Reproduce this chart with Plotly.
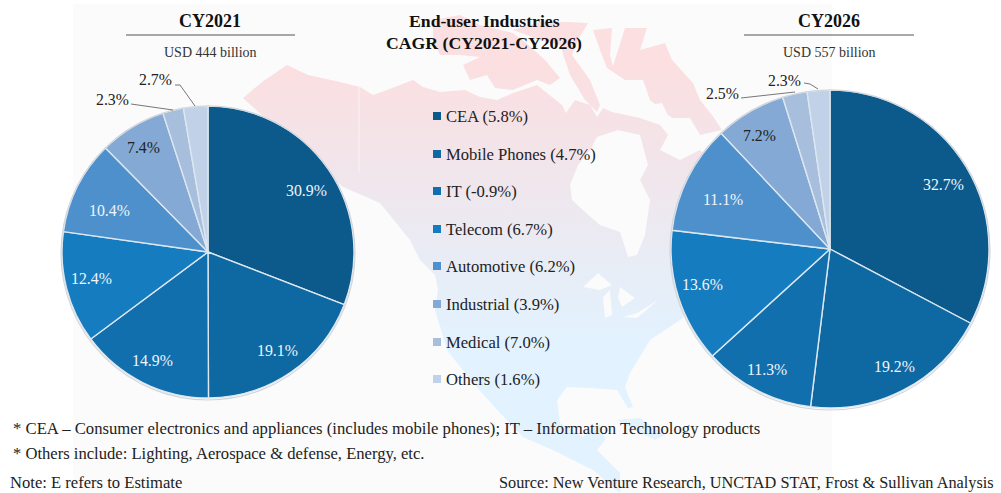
import plotly.graph_objects as go

# ---- data ----
segments = ["CEA", "Mobile Phones", "IT", "Telecom", "Automotive", "Industrial", "Medical", "Others"]
cagr = ["5.8", "4.7", "-0.9", "6.7", "6.2", "3.9", "7.0", "1.6"]
share_2021 = [30.9, 19.1, 14.9, 12.4, 10.4, 7.4, 2.3, 2.7]
share_2026 = [32.7, 19.2, 11.3, 13.6, 11.1, 7.2, 2.5, 2.3]
colors = ["#0C5A8C", "#0E68A1", "#116FAD", "#157CBF", "#4E90CB", "#84A9D4", "#A8BEDD", "#C0D1E8"]

W, H = 1001, 493
FONT = "Liberation Serif"
BG = "#FBFBFB"

# ---- layout positions (pixels) ----
pie1 = (208, 252, 146)
pie2 = (830, 249, 159)
label_xy_2021 = [(306, 190), (277, 350), (152, 360), (91, 278), (109, 210), (143, 147), (112, 99), (155, 79)]
label_xy_2026 = [(943, 184), (894, 366), (767, 369), (702, 284), (723, 199), (759, 135), (722, 93), (784, 80)]
legend_y = [116, 154, 191, 229, 266, 304, 342, 379]

# decorative map silhouette behind the chart
land = [
    [(243,98),(262,82),(287,65),(308,75),(340,82),(360,87),(373,95),(387,90),(413,80),(423,87),(440,92),(465,90),
     (480,97),(497,100),(513,93),(537,85),(552,97),(562,105),(566,113),(575,100),(590,105),(597,117),(603,108),
     (612,112),(640,118),(660,125),(668,135),(660,150),(680,160),(700,150),(725,175),(760,200),(730,280),(680,320),
     (650,340),(630,373),(625,387),(633,407),(628,408),(617,390),(590,388),(567,387),(557,400),(560,423),(583,437),
     (590,430),(600,425),(605,440),(597,450),(620,473),(620,493),(593,470),(553,450),(523,437),(500,413),(473,383),
     (447,350),(435,310),(438,290),(435,275),(420,260),(410,240),(380,203),(343,187),(300,150),(243,98)],
    [(593,30),(612,28),(610,55),(613,66),(625,28),(647,28),(640,50),(665,43),(672,60),(693,83),(700,100),(712,115),
     (722,130),(700,135),(690,118),(672,118),(650,100),(643,80),(625,80),(607,68),(600,50),(593,30)],
    [(513,30),(540,22),(567,22),(588,23),(578,40),(572,55),(590,80),(600,105),(597,112),(585,100),(570,75),(560,45),
     (540,40),(513,30)],
    [(433,20),(460,15),(480,25),(513,33),(525,42),(545,60),(560,78),(550,85),(537,80),(513,90),(495,88),(487,75),
     (470,80),(463,65),(480,57),(460,55),(440,55),(433,40),(433,20)],
    [(617,420),(640,418),(665,435),(655,440),(635,430),(617,420)],
]
water = [
    [(597,137),(618,130),(640,135),(648,165),(640,180),(650,200),(645,235),(637,255),(628,257),(620,232),(600,225),
     (585,212),(572,200),(570,185),(578,165),(590,150),(597,137)],
    [(583,287),(598,273),(612,285),(600,290),(583,287)],
    [(603,297),(610,290),(612,315),(605,318),(603,297)],
    [(620,287),(635,298),(622,307),(618,298),(620,287)],
    [(623,317),(637,313),(658,300),(650,307),(637,318),(623,317)],
    [(650,105),(662,103),(667,113),(660,123),(652,120),(650,105)],
]


def flatten(polys):
    xs, ys = [], []
    for p in polys:
        xs += [a for a, _ in p] + [None]
        ys += [b for _, b in p] + [None]
    return xs, ys


fig = go.Figure()
lx, ly = flatten(land)
fig.add_trace(go.Scatter(
    x=lx, y=ly, mode="none", fill="toself", hoverinfo="skip", showlegend=False,
    fillgradient=dict(type="vertical", start=70, stop=340,
                      colorscale=[[0, "#FBDFE1"], [0.4, "#F0E6EC"], [1, "#E2F2FE"]]),
))
wx, wy = flatten(water)
fig.add_trace(go.Scatter(x=wx, y=wy, mode="none", fill="toself", fillcolor=BG,
                         hoverinfo="skip", showlegend=False))


def domain(p):
    cx, cy, r = p
    return dict(x=[(cx - r) / W, (cx + r) / W], y=[1 - (cy + r) / H, 1 - (cy - r) / H])


for name, vals, p in (("CY2021", share_2021, pie1), ("CY2026", share_2026, pie2)):
    fig.add_trace(go.Pie(
        labels=segments, values=vals, name=name, sort=False, direction="clockwise", rotation=0,
        domain=domain(p), textinfo="none", showlegend=False,
        marker=dict(colors=colors, line=dict(color="#DCE7F0", width=1.4)),
    ))

shapes, ann = [], []


def text(x, y, s, size=16.6, color="#222222", anchor="center", bold=False):
    ann.append(dict(x=x, y=y, xref="x", yref="y", text=f"<b>{s}</b>" if bold else s, showarrow=False,
                    xanchor=anchor, yanchor="middle", font=dict(family=FONT, size=size, color=color)))


def line(pts, color="#555555", width=0.8):
    d = "M" + " L".join(f"{a},{b}" for a, b in pts)
    shapes.append(dict(type="path", path=d, xref="x", yref="y", layer="above",
                       line=dict(color=color, width=width)))


# backdrop panel and the soft rims of the pies
shapes.append(dict(type="rect", x0=73, x1=832, y0=4, y1=H, xref="x", yref="y", layer="below",
                   fillcolor=BG, line_width=0))
for cx, cy, r in (pie1, pie2):
    shapes.append(dict(type="circle", x0=cx - r - 1, x1=cx + r + 1, y0=cy - r, y1=cy + r + 2, xref="x", yref="y",
                       layer="above", fillcolor="rgba(0,0,0,0)", line=dict(color="#D2D6DA", width=1.2)))

line([(359, 87), (359, 172)], color="#FFFFFF", width=0.6)

# headers
text(210, 21, "CY2021", 18, "#111111", bold=True)
line([(126, 35), (295, 35)], "#555555", 1.2)
text(210, 52, "USD 444 billion", 14, "#333333")
text(829, 21, "CY2026", 18, "#111111", bold=True)
line([(744, 35), (914, 35)], "#555555", 1.2)
text(829, 52, "USD 557 billion", 14, "#333333")
text(484, 21, "End-user Industries", 17.7, "#111111", bold=True)
text(484, 43, "CAGR (CY2021-CY2026)", 17.7, "#111111", bold=True)

# slice labels
for vals, xy in ((share_2021, label_xy_2021), (share_2026, label_xy_2026)):
    for v, (x, y) in zip(vals, xy):
        text(x, y, f"{v:.1f}%", 15.8, "#F0F5FA" if v >= 10 else "#222222")

# leader lines
line([(131, 104), (173, 110)])
line([(175, 85), (180, 85), (195, 106)])
line([(741, 98), (795, 92)])
line([(804, 83), (810, 84), (818, 89)])

# hand-placed legend
for name, g, col, y in zip(segments, cagr, colors, legend_y):
    shapes.append(dict(type="rect", x0=433, x1=441, y0=y - 4, y1=y + 4, xref="x", yref="y", layer="above",
                       fillcolor=col, line_width=0))
    text(444, y, f"{name} ({g}%)", 16.6, "#222222", anchor="left")

# notes
text(11, 428, "* CEA – Consumer electronics and appliances (includes mobile phones); IT – Information Technology products", 16.7, anchor="left")
text(11, 453, "* Others include: Lighting, Aerospace &amp; defense, Energy, etc.", anchor="left")
text(8, 482, "Note: E refers to Estimate", anchor="left")
text(497, 482, "Source: New Venture Research, UNCTAD STAT, Frost &amp; Sullivan Analysis", 16.3, anchor="left")

fig.update_layout(
    width=W, height=H, margin=dict(l=0, r=0, t=0, b=0), paper_bgcolor="#FFFFFF", plot_bgcolor="rgba(0,0,0,0)",
    xaxis=dict(range=[0, W], visible=False, fixedrange=True),
    yaxis=dict(range=[H, 0], visible=False, fixedrange=True),
    shapes=shapes, annotations=ann, showlegend=False,
)
fig.write_html("out.html", config={"displayModeBar": False},
               post_script="document.body.style.margin='0';document.body.style.overflow='hidden';")
